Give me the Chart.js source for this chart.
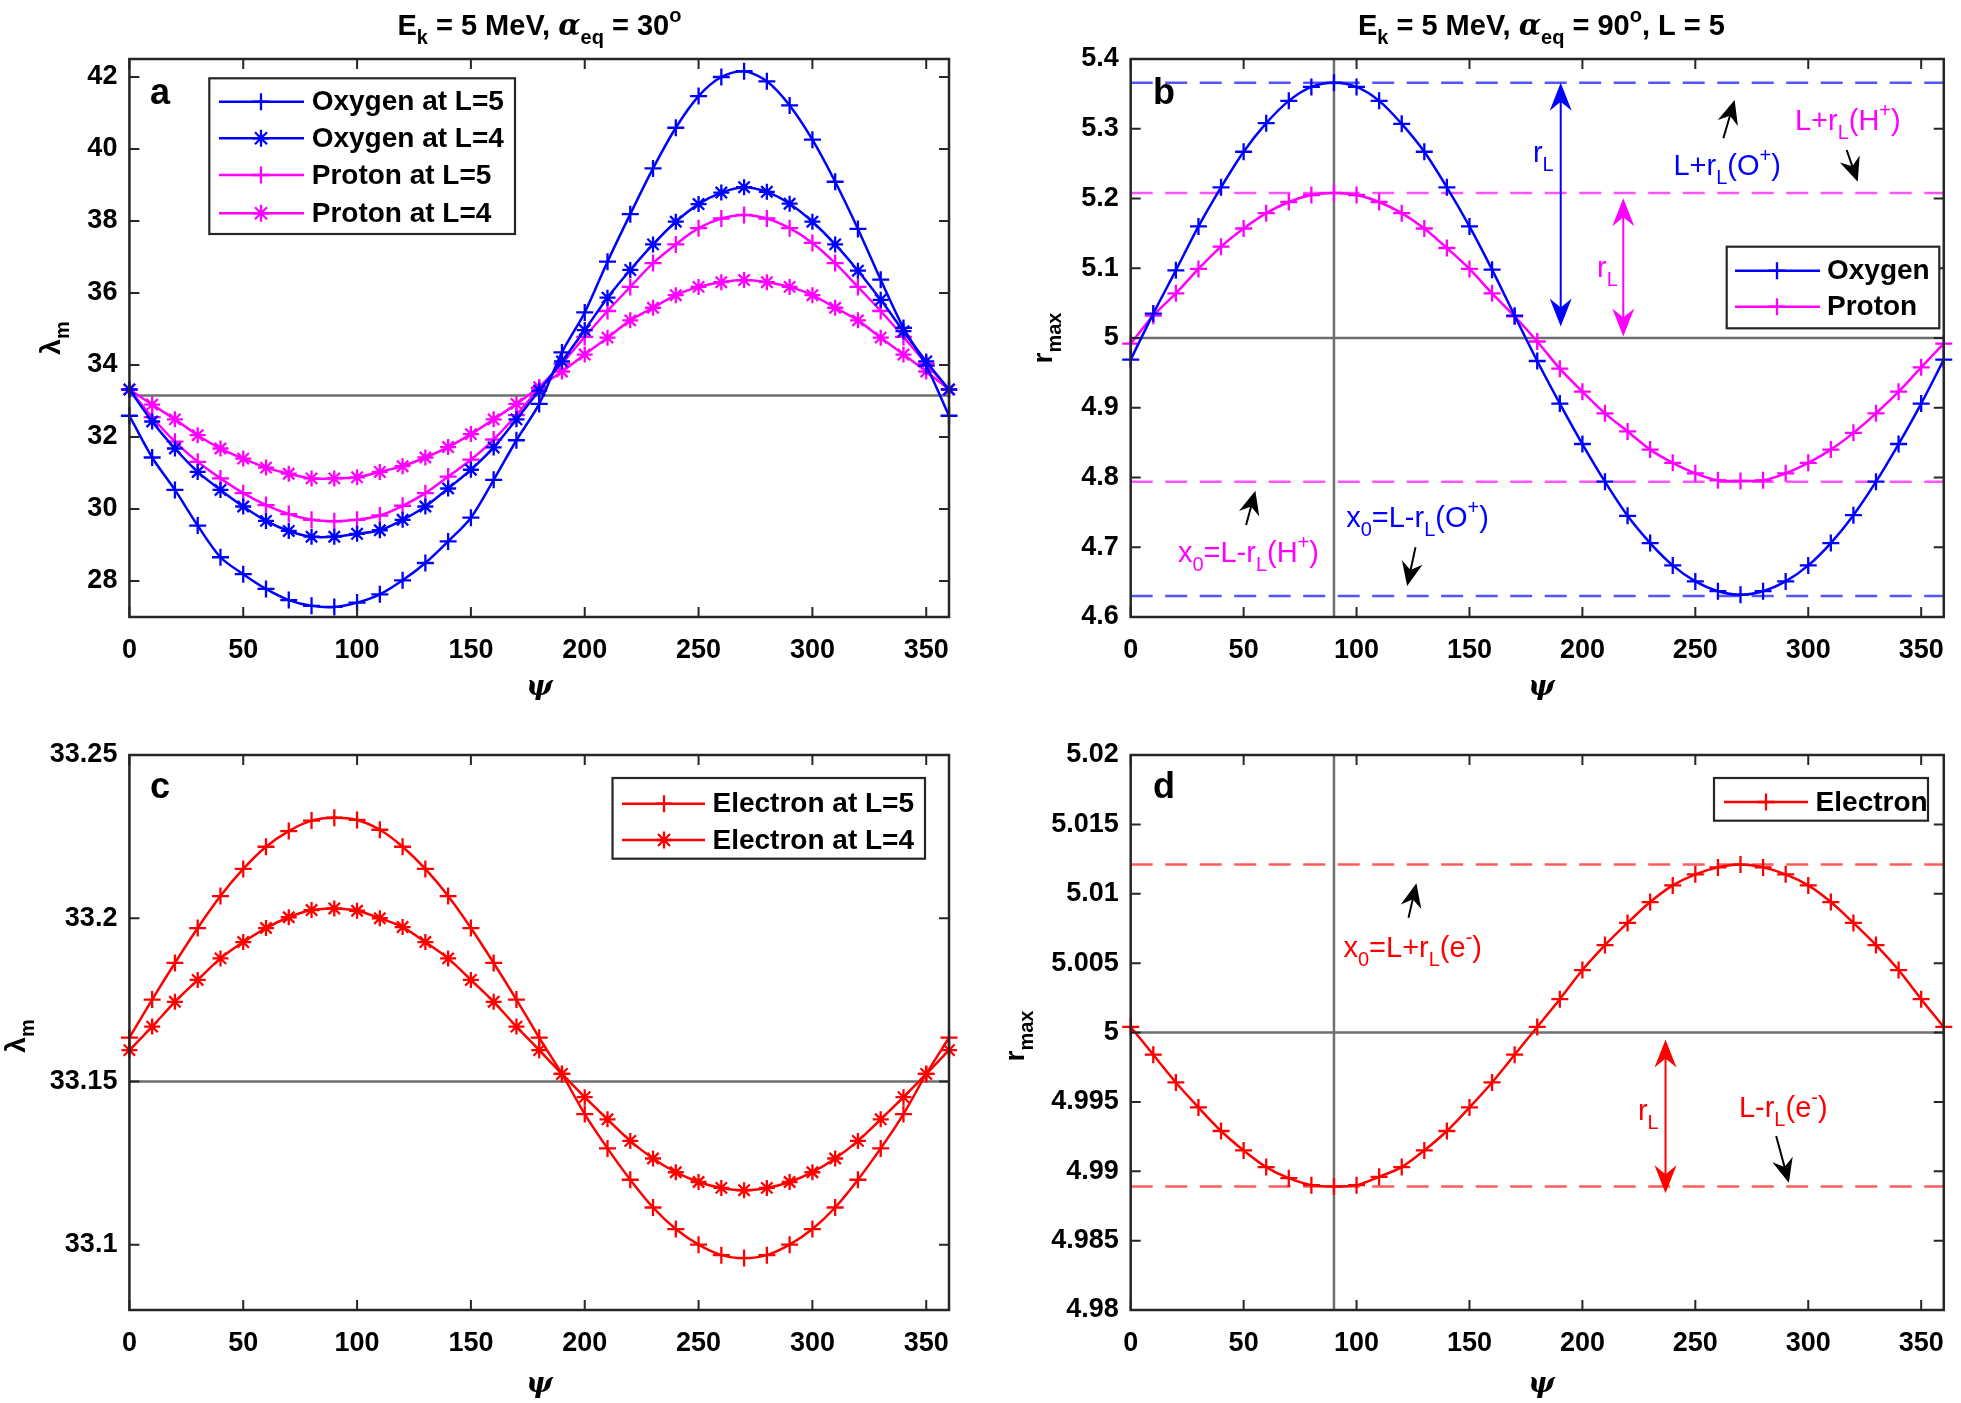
<!DOCTYPE html>
<html>
<head>
<meta charset="utf-8">
<script src="https://cdn.jsdelivr.net/npm/chart.js@4.4.1/dist/chart.umd.min.js"></script>
<style>
  body { margin: 0; background: #fff; }
  #fig { position: relative; width: 1961px; height: 1403px; background: #fff; }
  #fig canvas { position: absolute; }
</style>
</head>
<body>
<div id="fig">
  <canvas id="pa" width="980" height="700" style="left:0px;top:0px"></canvas>
  <canvas id="pb" width="981" height="700" style="left:980px;top:0px"></canvas>
  <canvas id="pc" width="980" height="703" style="left:0px;top:700px"></canvas>
  <canvas id="pd" width="981" height="703" style="left:980px;top:700px"></canvas>
</div>
<script>
// angle psi (deg), markers every 10 degrees
const psi = [0,10,20,30,40,50,60,70,80,90,100,110,120,130,140,150,160,170,180,
             190,200,210,220,230,240,250,260,270,280,290,300,310,320,330,340,350,360];

// panel a : lambda_m, alpha_eq = 30
const oxyL5 = [32.59,31.43,30.53,29.54,28.66,28.19,27.78,27.47,27.31,27.28,27.40,27.63,28.02,28.50,29.10,29.76,30.81,31.91,32.92,
               34.35,35.46,36.87,38.19,39.46,40.59,41.47,42.00,42.16,41.88,41.21,40.26,39.09,37.78,36.37,35.03,33.98,32.59];
const oxyL4 = [33.32,32.43,31.68,31.03,30.53,30.07,29.67,29.39,29.23,29.23,29.31,29.41,29.70,30.07,30.57,31.09,31.71,32.49,33.29,
               34.10,34.97,35.87,36.64,37.35,37.98,38.47,38.79,38.94,38.81,38.48,37.98,37.35,36.62,35.81,34.94,34.10,33.32];
const proL5 = [33.32,32.55,31.87,31.31,30.85,30.44,30.11,29.86,29.70,29.66,29.70,29.82,30.09,30.44,30.90,31.37,31.93,32.61,33.36,
               34.04,34.78,35.50,36.17,36.83,37.35,37.80,38.07,38.17,38.07,37.80,37.39,36.83,36.17,35.50,34.78,34.04,33.32];
const proL4 = [33.32,32.90,32.49,32.05,31.68,31.40,31.15,30.98,30.85,30.85,30.88,31.03,31.19,31.43,31.72,32.08,32.49,32.92,33.38,
               33.82,34.29,34.76,35.24,35.59,35.94,36.17,36.30,36.36,36.30,36.17,35.94,35.59,35.24,34.76,34.29,33.82,33.32];

// panel b : r_max, alpha_eq = 90, L = 5
const oxyR = [4.969,5.035,5.097,5.160,5.216,5.267,5.308,5.340,5.360,5.366,5.360,5.340,5.307,5.267,5.216,5.160,5.098,5.032,4.967,
              4.906,4.848,4.794,4.745,4.706,4.674,4.651,4.637,4.632,4.637,4.651,4.674,4.706,4.746,4.794,4.848,4.906,4.969];
const proR = [4.992,5.032,5.064,5.099,5.131,5.157,5.179,5.195,5.205,5.208,5.205,5.195,5.179,5.157,5.129,5.099,5.064,5.031,4.995,
              4.956,4.923,4.892,4.866,4.840,4.821,4.806,4.796,4.795,4.796,4.806,4.821,4.840,4.864,4.892,4.923,4.958,4.992];
const oxyRLines = [5.366, 4.630];
const proRLines = [5.208, 4.794];

// panel c : electron lambda_m
const eleL5 = [33.1634,33.1751,33.1863,33.1970,33.2068,33.2151,33.2219,33.2267,33.2299,33.2308,33.2301,33.2271,33.2219,33.2151,33.2068,33.1970,33.1863,33.1751,33.1634,
               33.1523,33.1400,33.1295,33.1199,33.1114,33.1048,33.1000,33.0968,33.0959,33.0968,33.1000,33.1048,33.1114,33.1199,33.1295,33.1400,33.1523,33.1634];
const eleL4 = [33.1596,33.1668,33.1744,33.1811,33.1877,33.1927,33.1970,33.2003,33.2025,33.2030,33.2023,33.2000,33.1973,33.1927,33.1877,33.1811,33.1744,33.1668,33.1596,
               33.1523,33.1452,33.1384,33.1318,33.1264,33.1222,33.1192,33.1174,33.1167,33.1174,33.1192,33.1222,33.1264,33.1318,33.1384,33.1452,33.1523,33.1596];

// panel d : electron r_max
const eleR = [5.0004,4.9984,4.9964,4.9946,4.9929,4.9915,4.9903,4.9895,4.9890,4.9889,4.9890,4.9896,4.9903,4.9915,4.9929,4.9946,4.9964,4.9984,5.0004,
              5.0024,5.0045,5.0063,5.0079,5.0094,5.0106,5.0114,5.0119,5.0121,5.0119,5.0114,5.0106,5.0094,5.0079,5.0063,5.0045,5.0024,5.0004];
const eleRLines = [5.0121, 4.9889];

// ticks
const xTicks = [0,50,100,150,200,250,300,350];
const yTicksA = [28,30,32,34,36,38,40,42];
const yLabelsA = ['28','30','32','34','36','38','40','42'];
const yTicksB = [4.6,4.7,4.8,4.9,5,5.1,5.2,5.3,5.4];
const yLabelsB = ['4.6','4.7','4.8','4.9','5','5.1','5.2','5.3','5.4'];
const yTicksC = [33.1,33.15,33.2,33.25];
const yLabelsC = ['33.1','33.15','33.2','33.25'];
const yTicksD = [4.98,4.985,4.99,4.995,5,5.005,5.01,5.015,5.02];
const yLabelsD = ['4.98','4.985','4.99','4.995','5','5.005','5.01','5.015','5.02'];

const SANS = 'Liberation Sans, Arial, Helvetica, sans-serif';
const SERIF = 'DejaVu Serif, Liberation Serif, serif';
const AXC = '#262626';
const BLUE = '#0000ff', MAG = '#ff00ff', RED = '#ff0000', GRAY = '#6e6e6e';

const pts = arr => psi.map((p, i) => ({ x: p, y: arr[i] }));
const hline = v => [{ x: 0, y: v }, { x: 360, y: v }];
const vline = (v, lo, hi) => [{ x: v, y: lo }, { x: v, y: hi }];

function curve(label, arr, color, marker) {
  return {
    label, data: pts(arr), borderColor: color, backgroundColor: color,
    borderWidth: 2.5, pointStyle: marker, pointRadius: marker === 'star' ? 8 : 8.5,
    pointBorderWidth: 2.3, pointBorderColor: color, pointBackgroundColor: color,
    tension: 0.3, clip: false, order: 0
  };
}
function ref(data, color, dash) {
  return { label: '', data, borderColor: color, borderWidth: 2.5, borderDash: dash || [],
           pointRadius: 0, tension: 0, ref: true, order: 5, clip: false };
}

// rich text: parts = [{t, s:'sub'|'sup', g:true for greek serif}]
function drawRich(ctx, parts, x, y, o) {
  const base = o.size, small = Math.round(base * 0.7);
  const fontOf = p => {
    const sz = p.s ? small : base;
    if (p.g) return 'italic bold ' + sz + 'px ' + SERIF;
    return (o.bold ? 'bold ' : '') + sz + 'px ' + SANS;
  };
  let w = 0;
  parts.forEach(p => { ctx.font = fontOf(p); p._w = ctx.measureText(p.t).width; w += p._w; });
  let cx = o.align === 'center' ? x - w / 2 : x;
  ctx.textAlign = 'left';
  ctx.textBaseline = 'alphabetic';
  ctx.fillStyle = o.color || '#000';
  parts.forEach(p => {
    ctx.font = fontOf(p);
    const dy = p.s === 'sub' ? base * 0.32 : (p.s === 'sup' ? -base * 0.44 : 0);
    ctx.fillText(p.t, cx, y + dy);
    cx += p._w;
  });
}

function arrowHead(ctx, tx, ty, ux, uy, len, hw) {
  const bx = tx - ux * len, by = ty - uy * len;
  const nx = tx - ux * len * 0.68, ny = ty - uy * len * 0.68;
  const px = -uy, py = ux;
  ctx.beginPath();
  ctx.moveTo(tx, ty);
  ctx.lineTo(bx + px * hw, by + py * hw);
  ctx.lineTo(nx, ny);
  ctx.lineTo(bx - px * hw, by - py * hw);
  ctx.closePath();
  ctx.fill();
}

function drawArrow(ctx, x1, y1, x2, y2, n) {
  const dx = x2 - x1, dy = y2 - y1, L = Math.hypot(dx, dy);
  const ux = dx / L, uy = dy / L;
  const len = n.both ? 28 : 24, hw = n.both ? 11 : 10.5;
  ctx.strokeStyle = n.color; ctx.fillStyle = n.color; ctx.lineWidth = 2;
  ctx.beginPath();
  ctx.moveTo(x1 + (n.both ? ux * len * 0.6 : 0), y1 + (n.both ? uy * len * 0.6 : 0));
  ctx.lineTo(x2 - ux * len * 0.6, y2 - uy * len * 0.6);
  ctx.stroke();
  arrowHead(ctx, x2, y2, ux, uy, len, hw);
  if (n.both) arrowHead(ctx, x1, y1, -ux, -uy, len, hw);
}

function drawMarker(ctx, style, cx, cy, r, color) {
  ctx.strokeStyle = color; ctx.lineWidth = 2.3;
  ctx.beginPath();
  ctx.moveTo(cx - r, cy); ctx.lineTo(cx + r, cy);
  ctx.moveTo(cx, cy - r); ctx.lineTo(cx, cy + r);
  if (style === 'star') {
    const d = r * 0.7071;
    ctx.moveTo(cx - d, cy - d); ctx.lineTo(cx + d, cy + d);
    ctx.moveTo(cx - d, cy + d); ctx.lineTo(cx + d, cy - d);
  }
  ctx.stroke();
}

const matlabLook = {
  id: 'matlabLook',
  beforeDraw(chart) {
    const ctx = chart.ctx;
    ctx.save(); ctx.fillStyle = '#fff'; ctx.fillRect(0, 0, chart.width, chart.height); ctx.restore();
  },
  afterDraw(chart, args, o) {
    const { ctx, chartArea: a, scales: { x, y } } = chart;
    ctx.save();
    // axes box with inward ticks on all sides
    ctx.strokeStyle = AXC; ctx.lineWidth = 2.5;
    ctx.strokeRect(a.left, a.top, a.right - a.left, a.bottom - a.top);
    ctx.lineWidth = 2;
    ctx.beginPath();
    x.ticks.forEach(t => {
      const px = x.getPixelForValue(t.value);
      ctx.moveTo(px, a.bottom); ctx.lineTo(px, a.bottom - 10);
      ctx.moveTo(px, a.top); ctx.lineTo(px, a.top + 10);
    });
    y.ticks.forEach(t => {
      const py = y.getPixelForValue(t.value);
      ctx.moveTo(a.left, py); ctx.lineTo(a.left + 10, py);
      ctx.moveTo(a.right, py); ctx.lineTo(a.right - 10, py);
    });
    ctx.stroke();

    // annotations placed in data coordinates
    (o.notes || []).forEach(n => {
      if (n.arrow) {
        drawArrow(ctx, x.getPixelForValue(n.x1), y.getPixelForValue(n.y1),
                  x.getPixelForValue(n.x2), y.getPixelForValue(n.y2), n);
      } else {
        drawRich(ctx, n.parts, x.getPixelForValue(n.x), y.getPixelForValue(n.y),
                 { size: 29, color: n.color, align: 'left' });
      }
    });

    // legend box
    const lg = o.legend;
    if (lg) {
      const items = chart.data.datasets.filter(d => !d.ref);
      ctx.fillStyle = '#fff';
      ctx.fillRect(lg.box[0], lg.box[1], lg.box[2] - lg.box[0], lg.box[3] - lg.box[1]);
      ctx.strokeStyle = AXC; ctx.lineWidth = 2.2;
      ctx.strokeRect(lg.box[0], lg.box[1], lg.box[2] - lg.box[0], lg.box[3] - lg.box[1]);
      items.forEach((d, i) => {
        const ry = lg.rows[i];
        ctx.strokeStyle = d.borderColor; ctx.lineWidth = 2.5;
        ctx.beginPath(); ctx.moveTo(lg.line[0], ry); ctx.lineTo(lg.line[1], ry); ctx.stroke();
        drawMarker(ctx, d.pointStyle, lg.mark, ry, 8.5, d.borderColor);
        ctx.fillStyle = '#000'; ctx.font = 'bold 28px ' + SANS;
        ctx.textAlign = 'left'; ctx.textBaseline = 'middle';
        ctx.fillText(d.label, lg.text, ry + 1);
      });
    }

    // panel letter
    ctx.fillStyle = '#000'; ctx.font = 'bold 36px ' + SANS;
    ctx.textAlign = 'left'; ctx.textBaseline = 'alphabetic';
    ctx.fillText(o.letter[0], o.letter[1], o.letter[2]);

    // title
    if (o.title) drawRich(ctx, o.title.parts, o.title.x, o.title.y, { size: 29, bold: true, align: 'center' });

    // x axis title (psi)
    ctx.fillStyle = '#000'; ctx.font = 'italic bold 28px ' + SERIF;
    ctx.textAlign = 'center'; ctx.textBaseline = 'middle';
    ctx.fillText('\u03c8', o.xTitle[0], o.xTitle[1]);

    // y axis title, rotated
    ctx.translate(o.yTitle.x, o.yTitle.y);
    ctx.rotate(-Math.PI / 2);
    drawRich(ctx, o.yTitle.parts, 0, 0, { size: 28, bold: true, align: 'center' });
    ctx.restore();
  }
};

function makePanel(p) {
  new Chart(document.getElementById(p.id), {
    type: 'line',
    data: { datasets: p.datasets },
    plugins: [matlabLook],
    options: {
      responsive: false, animation: false, devicePixelRatio: 1,
      layout: { padding: { left: 0, top: p.pad.top, right: p.pad.right, bottom: 0 } },
      plugins: {
        legend: { display: false }, tooltip: { enabled: false },
        matlabLook: p.look
      },
      scales: {
        x: {
          type: 'linear', min: 0, max: 360,
          grid: { display: false, drawTicks: false }, border: { display: false },
          afterBuildTicks: s => { s.ticks = xTicks.map(v => ({ value: v })); },
          afterFit: s => { s.height = p.pad.xh; },
          ticks: { autoSkip: false, maxRotation: 0, padding: 17, color: '#000',
                   font: { family: SANS, size: 27, weight: 'bold' },
                   callback: v => String(v) }
        },
        y: {
          type: 'linear', min: p.ymin, max: p.ymax,
          grid: { display: false, drawTicks: false }, border: { display: false },
          afterBuildTicks: s => { s.ticks = p.yTicks.map(v => ({ value: v })); },
          afterFit: s => { s.width = p.pad.yw; },
          ticks: { autoSkip: false, padding: 12, color: '#000',
                   font: { family: SANS, size: 27, weight: 'bold' },
                   callback: (v, i) => p.yLabels[i] }
        }
      }
    }
  });
}

const sub = t => ({ t, s: 'sub' });
const sup = t => ({ t, s: 'sup' });
const txt = t => ({ t });

// panel a
makePanel({
  id: 'pa', ymin: 27, ymax: 42.5, yTicks: yTicksA, yLabels: yLabelsA,
  pad: { top: 59, right: 31, yw: 129.4, xh: 83 },
  datasets: [
    curve('Oxygen at L=5', oxyL5, BLUE, 'cross'),
    curve('Oxygen at L=4', oxyL4, BLUE, 'star'),
    curve('Proton at L=5', proL5, MAG, 'cross'),
    curve('Proton at L=4', proL4, MAG, 'star'),
    ref(hline(33.15), GRAY)
  ],
  look: {
    letter: ['a', 150, 104],
    title: { x: 539.4, y: 35, parts: [txt('E'), sub('k'), txt(' = 5 MeV, '), { t: '\u03b1', g: true }, sub('eq'), txt(' = 30'), sup('o')] },
    xTitle: [539.4, 688],
    yTitle: { x: 60, y: 338, parts: [txt('\u03bb'), sub('m')] },
    legend: { box: [209.3, 78.3, 515, 234], rows: [101.7, 138.3, 175, 213.3], line: [219, 304], mark: 261, text: 311.7 }
  }
});

// panel b
makePanel({
  id: 'pb', ymin: 4.6, ymax: 5.4, yTicks: yTicksB, yLabels: yLabelsB,
  pad: { top: 59, right: 9, yw: 150.7, xh: 83 },
  datasets: [
    curve('Oxygen', oxyR, BLUE, 'cross'),
    curve('Proton', proR, MAG, 'cross'),
    ref(hline(5), GRAY),
    ref(vline(90, 4.6, 5.4), GRAY),
    ref(hline(oxyRLines[0]), 'rgba(40,40,255,0.8)', [22, 12.5]),
    ref(hline(oxyRLines[1]), 'rgba(40,40,255,0.8)', [22, 12.5]),
    ref(hline(proRLines[0]), 'rgba(255,40,255,0.8)', [22, 12.5]),
    ref(hline(proRLines[1]), 'rgba(255,40,255,0.8)', [22, 12.5])
  ],
  look: {
    letter: ['b', 173, 104],
    title: { x: 561.4, y: 35, parts: [txt('E'), sub('k'), txt(' = 5 MeV, '), { t: '\u03b1', g: true }, sub('eq'), txt(' = 90'), sup('o'), txt(', L = 5')] },
    xTitle: [561.4, 688],
    yTitle: { x: 72, y: 338, parts: [txt('r'), sub('max')] },
    legend: { box: [746.7, 246.7, 959.3, 328.3], rows: [270.7, 306.7], line: [755, 840], mark: 797, text: 847 },
    notes: [
      { arrow: true, both: true, color: BLUE, x1: 190.4, y1: 5.0166, x2: 190.4, y2: 5.366 },
      { arrow: true, both: true, color: MAG, x1: 218.1, y1: 5.002, x2: 218.1, y2: 5.2003 },
      { x: 178.1, y: 5.2528, color: BLUE, parts: [txt('r'), sub('L')] },
      { x: 206.5, y: 5.0879, color: MAG, parts: [txt('r'), sub('L')] },
      { x: 240.3, y: 5.2337, color: BLUE, parts: [txt('L+r'), sub('L'), txt('(O'), sup('+'), txt(')')] },
      { x: 294.1, y: 5.2982, color: MAG, parts: [txt('L+r'), sub('L'), txt('(H'), sup('+'), txt(')')] },
      { arrow: true, color: '#000', x1: 262.4, y1: 5.2863, x2: 267.4, y2: 5.3412 },
      { arrow: true, color: '#000', x1: 317.0, y1: 5.2695, x2: 321.9, y2: 5.2241 },
      { x: 20.9, y: 4.6793, color: MAG, parts: [txt('x'), sub('0'), txt('=L-r'), sub('L'), txt('(H'), sup('+'), txt(')')] },
      { x: 95.4, y: 4.7295, color: BLUE, parts: [txt('x'), sub('0'), txt('=L-r'), sub('L'), txt('(O'), sup('+'), txt(')')] },
      { arrow: true, color: '#000', x1: 51.1, y1: 4.7319, x2: 55.2, y2: 4.7811 },
      { arrow: true, color: '#000', x1: 126.1, y1: 4.70, x2: 122.4, y2: 4.6445 }
    ]
  }
});

// panel c
makePanel({
  id: 'pc', ymin: 33.08, ymax: 33.25, yTicks: yTicksC, yLabels: yLabelsC,
  pad: { top: 55, right: 31, yw: 129.4, xh: 93 },
  datasets: [
    curve('Electron at L=5', eleL5, RED, 'cross'),
    curve('Electron at L=4', eleL4, RED, 'star'),
    ref(hline(33.15), GRAY)
  ],
  look: {
    letter: ['c', 150, 98],
    xTitle: [539.4, 685],
    yTitle: { x: 25, y: 336, parts: [txt('\u03bb'), sub('m')] },
    legend: { box: [612.5, 78, 925, 158.7], rows: [103.7, 140], line: [622, 705], mark: 664, text: 712.5 }
  }
});

// panel d
makePanel({
  id: 'pd', ymin: 4.98, ymax: 5.02, yTicks: yTicksD, yLabels: yLabelsD,
  pad: { top: 55, right: 9, yw: 150.7, xh: 93 },
  datasets: [
    curve('Electron', eleR, RED, 'cross'),
    ref(hline(5), GRAY),
    ref(vline(90, 4.98, 5.02), GRAY),
    ref(hline(eleRLines[0]), 'rgba(255,50,50,0.8)', [22, 12.5]),
    ref(hline(eleRLines[1]), 'rgba(255,50,50,0.8)', [22, 12.5])
  ],
  look: {
    letter: ['d', 173, 98],
    xTitle: [561.4, 685],
    yTitle: { x: 44, y: 336, parts: [txt('r'), sub('max')] },
    legend: { box: [734, 78, 948, 120.7], rows: [102], line: [744, 828], mark: 786, text: 835.6 },
    notes: [
      { arrow: true, both: true, color: RED, x1: 236.8, y1: 4.9995, x2: 236.8, y2: 4.98841 },
      { x: 224.6, y: 4.99369, color: RED, parts: [txt('r'), sub('L')] },
      { x: 269.3, y: 4.99393, color: RED, parts: [txt('L-r'), sub('L'), txt('(e'), sup('-'), txt(')')] },
      { arrow: true, color: '#000', x1: 285.8, y1: 4.99254, x2: 291.4, y2: 4.98917 },
      { x: 94.2, y: 5.00544, color: RED, parts: [txt('x'), sub('0'), txt('=L+r'), sub('L'), txt('(e'), sup('-'), txt(')')] },
      { arrow: true, color: '#000', x1: 123.0, y1: 5.00827, x2: 126.5, y2: 5.01075 }
    ]
  }
});
</script>
</body>
</html>
